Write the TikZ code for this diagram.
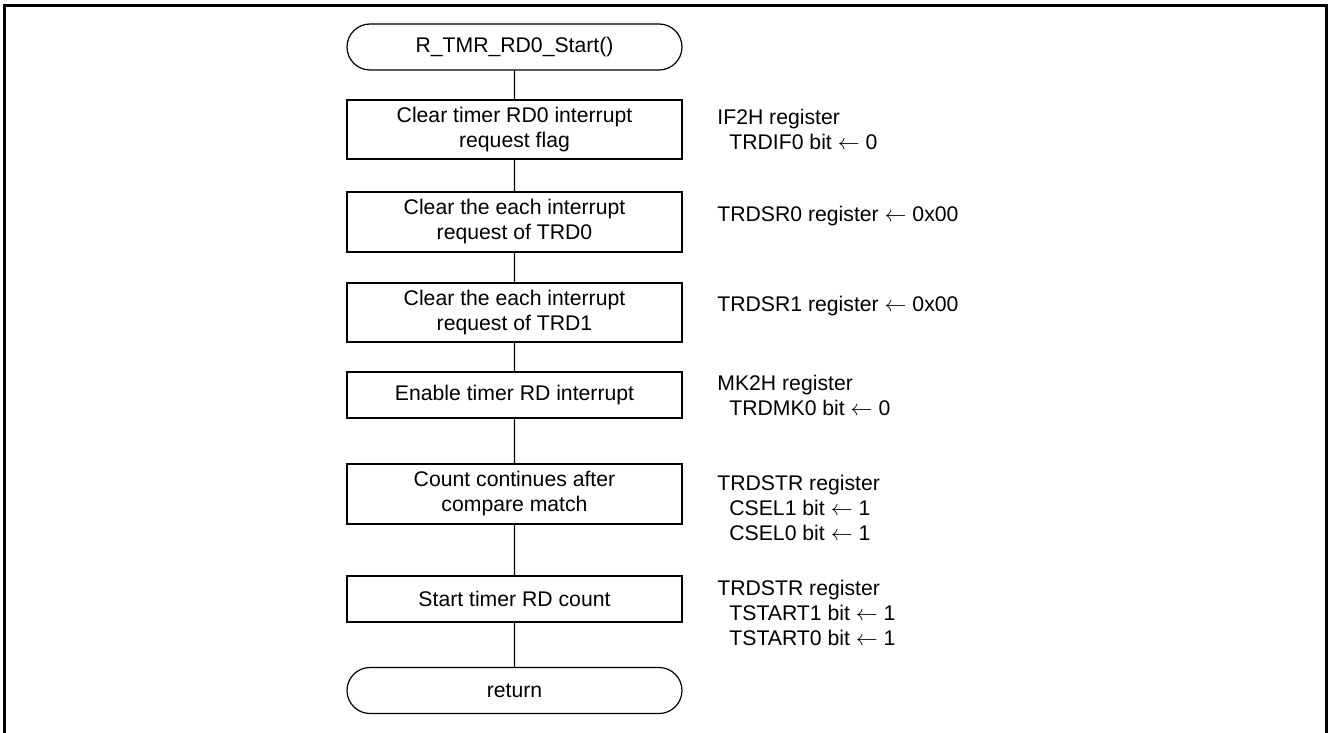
\documentclass[tikz,border=0pt]{standalone}
\usepackage{fontspec}
\setmainfont{Liberation Sans}
\usetikzlibrary{shapes.misc}
\newcommand{\setto}{\ensuremath{\leftarrow}}
\begin{document}
\begin{tikzpicture}[x=0.5pt,y=-0.5pt,
  every node/.style={font=\fontsize{10.6}{12.5}\selectfont, inner sep=0pt},
  procbox/.style={draw, line width=0.6pt, rectangle, minimum width=167.5pt, align=center},
  termbox/.style={draw, line width=0.6pt, rounded rectangle, minimum width=167.5pt, minimum height=23pt},
  link/.style={line width=0.6pt},
  note/.style={anchor=base west},
  outline/.style={line width=1.35pt}]
\useasboundingbox (0,0) rectangle (1328,733);

% open frame round the chart
\draw[outline] (4.7,733) -- (4.7,5.3) -- (1326.3,5.3) -- (1326.3,733);

% flow chart
\node[termbox] (start) at (514.5,47) {R\_TMR\_RD0\_Start()};
\node[procbox, minimum height=29.5pt] (s1) at (514.5,129.5) {Clear timer RD0 interrupt\\request flag};
\node[procbox, minimum height=30pt] (s2) at (514.5,222) {Clear the each interrupt\\request of TRD0};
\node[procbox, minimum height=29.5pt] (s3) at (514.5,312.5) {Clear the each interrupt\\request of TRD1};
\node[procbox, minimum height=23pt] (s4) at (514.5,395) {Enable timer RD interrupt};
\node[procbox, minimum height=30pt] (s5) at (514.5,494) {Count continues after\\compare match};
\node[procbox, minimum height=23pt] (s6) at (514.5,599) {Start timer RD count};
\node[termbox] (stop) at (514.5,690.5) {return};

\draw[link] (start) -- (s1) -- (s2) -- (s3) -- (s4) -- (s5) -- (s6) -- (stop);

% register settings beside each step
\node[note] (n1) at (717,125) {\begin{tabular}[t]{@{}l@{}}IF2H register\\\hspace*{6pt}TRDIF0 bit \setto{} 0\end{tabular}};
\node[note] (n2) at (717,221.7) {TRDSR0 register \setto{} 0x00};
\node[note] (n3) at (717,311.7) {TRDSR1 register \setto{} 0x00};
\node[note] (n4) at (717,390) {\begin{tabular}[t]{@{}l@{}}MK2H register\\\hspace*{6pt}TRDMK0 bit \setto{} 0\end{tabular}};
\node[note] (n5) at (717,490) {\begin{tabular}[t]{@{}l@{}}TRDSTR register\\\hspace*{6pt}CSEL1 bit \setto{} 1\\\hspace*{6pt}CSEL0 bit \setto{} 1\end{tabular}};
\node[note] (n6) at (717,595) {\begin{tabular}[t]{@{}l@{}}TRDSTR register\\\hspace*{6pt}TSTART1 bit \setto{} 1\\\hspace*{6pt}TSTART0 bit \setto{} 1\end{tabular}};
\end{tikzpicture}
\end{document}
